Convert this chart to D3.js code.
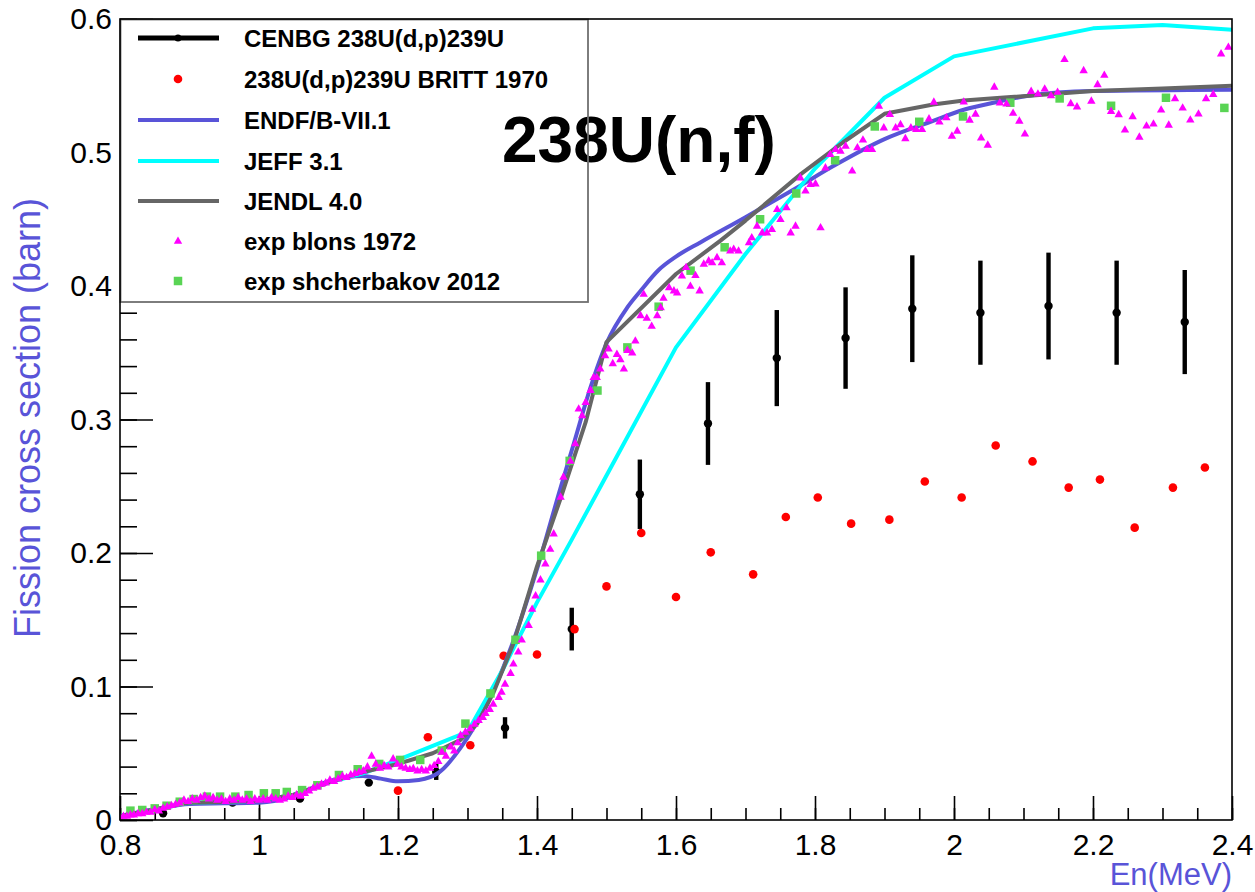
<!DOCTYPE html>
<html><head><meta charset="utf-8">
<script src="https://cdn.jsdelivr.net/npm/d3@7"></script>
<style>
html,body{margin:0;padding:0;background:#fff;}
svg{display:block;font-family:"Liberation Sans",Arial,Helvetica,sans-serif;}
</style></head><body>
<svg id="chart" width="1255" height="892"></svg>
<script>
// ---- axis ticks ----
const xMajor = [0.8, 1.0, 1.2, 1.4, 1.6, 1.8, 2.0, 2.2, 2.4];
const xLabels = ["0.8", "1", "1.2", "1.4", "1.6", "1.8", "2", "2.2", "2.4"];
const yMajor = [0, 0.1, 0.2, 0.3, 0.4, 0.5, 0.6];
const yLabels = ["0", "0.1", "0.2", "0.3", "0.4", "0.5", "0.6"];

// ---- CENBG 238U(d,p)239U surrogate data ----
const cenbgE   = [0.862, 0.962, 1.059, 1.158, 1.255, 1.354, 1.450, 1.548, 1.646, 1.745, 1.844, 1.940, 2.038, 2.136, 2.234, 2.332];
const cenbgXS  = [0.005, 0.013, 0.016, 0.028, 0.036, 0.069, 0.143, 0.244, 0.297, 0.346, 0.361, 0.383, 0.380, 0.385, 0.380, 0.373];
const cenbgErr = [0.001, 0.001, 0.001, 0.002, 0.006, 0.008, 0.016, 0.026, 0.031, 0.036, 0.038, 0.040, 0.039, 0.040, 0.039, 0.039];

// ---- Britt 1970 ----
const brittE  = [1.200, 1.243, 1.304, 1.352, 1.400, 1.454, 1.500, 1.550, 1.600, 1.650, 1.711, 1.758, 1.804, 1.852, 1.907, 1.958, 2.011, 2.060, 2.113, 2.165, 2.210, 2.260, 2.315, 2.361];
const brittXS = [0.022, 0.062, 0.056, 0.123, 0.124, 0.143, 0.175, 0.215, 0.167, 0.2005, 0.184, 0.227, 0.2416, 0.222, 0.225, 0.2536, 0.2416, 0.2805, 0.2686, 0.249, 0.255, 0.219, 0.249, 0.264];

// ---- evaluations ----
const endfE  = [0.80, 0.85, 0.90, 0.95, 1.00, 1.05, 1.10, 1.15, 1.175, 1.20, 1.23, 1.26, 1.29, 1.31, 1.34, 1.37, 1.40, 1.434, 1.453, 1.477, 1.50, 1.53, 1.55, 1.575, 1.60, 1.635, 1.70, 1.775, 1.827, 1.90, 1.97, 2.014, 2.067, 2.105, 2.20, 2.40];
const endfXS = [0.003, 0.008, 0.012, 0.0125, 0.013, 0.018, 0.029, 0.033, 0.031, 0.029, 0.030, 0.036, 0.054, 0.070, 0.100, 0.140, 0.188, 0.249, 0.282, 0.324, 0.357, 0.384, 0.397, 0.412, 0.422, 0.4326, 0.4515, 0.474, 0.490, 0.510, 0.5237, 0.532, 0.5384, 0.5424, 0.546, 0.547];

const jeffE  = [0.80, 0.85, 0.90, 0.95, 1.00, 1.05, 1.10, 1.15, 1.20, 1.30, 1.35, 1.40, 1.45, 1.50, 1.60, 1.70, 1.80, 1.90, 2.00, 2.20, 2.30, 2.40];
const jeffXS = [0.003, 0.008, 0.013, 0.0135, 0.0145, 0.019, 0.028, 0.035, 0.045, 0.066, 0.112, 0.163, 0.210, 0.258, 0.354, 0.424, 0.488, 0.541, 0.572, 0.593, 0.5955, 0.592];

const jendlE  = [0.80, 0.85, 0.90, 0.95, 1.00, 1.05, 1.10, 1.15, 1.20, 1.25, 1.29, 1.314, 1.337, 1.366, 1.40, 1.434, 1.47, 1.50, 1.60, 1.664, 1.70, 1.78, 1.84, 1.90, 1.97, 2.014, 2.067, 2.20, 2.30, 2.40];
const jendlXS = [0.003, 0.008, 0.013, 0.0135, 0.0145, 0.019, 0.028, 0.036, 0.042, 0.050, 0.060, 0.072, 0.095, 0.132, 0.190, 0.241, 0.298, 0.358, 0.409, 0.434, 0.449, 0.484, 0.5075, 0.529, 0.536, 0.539, 0.541, 0.546, 0.548, 0.550];

// ---- Blons 1972 ----
const blonsE = [0.800, 0.805, 0.810, 0.815, 0.820, 0.826, 0.832, 0.838, 0.844, 0.850, 0.856, 0.862, 0.868, 0.874, 0.880, 0.886, 0.892, 0.898, 0.904, 0.910,
  0.916, 0.922, 0.928, 0.934, 0.940, 0.946, 0.952, 0.958, 0.964, 0.970, 0.976, 0.982, 0.988, 0.994, 1.000, 1.006, 1.012, 1.018, 1.024, 1.030,
  1.036, 1.042, 1.048, 1.054, 1.060, 1.066, 1.072, 1.078, 1.084, 1.090, 1.096, 1.102, 1.108, 1.114, 1.120, 1.126, 1.132, 1.138, 1.144, 1.150,
  1.156, 1.162, 1.168, 1.174, 1.180, 1.186, 1.193, 1.199, 1.205, 1.211, 1.217, 1.222, 1.228, 1.234, 1.240, 1.246, 1.252, 1.258, 1.263, 1.269,
  1.276, 1.281, 1.286, 1.290, 1.297, 1.304, 1.310, 1.316, 1.322, 1.326, 1.332, 1.337, 1.345, 1.349, 1.354, 1.362, 1.366, 1.373, 1.378, 1.388,
  1.393, 1.398, 1.405, 1.412, 1.419, 1.424, 1.434, 1.438, 1.448, 1.455, 1.460, 1.465, 1.470, 1.477, 1.4815, 1.486, 1.491, 1.498, 1.503, 1.509,
  1.515, 1.520, 1.525, 1.530, 1.537, 1.5415, 1.549, 1.5535, 1.558, 1.565, 1.573, 1.578, 1.582, 1.590, 1.597, 1.6016, 1.6085, 1.6145, 1.6207, 1.628,
  1.634, 1.640, 1.647, 1.652, 1.659, 1.666, 1.678, 1.683, 1.690, 1.705, 1.709, 1.7166, 1.724, 1.731, 1.738, 1.7455, 1.7503, 1.759, 1.765, 1.772,
  1.779, 1.7863, 1.7935, 1.8007, 1.808, 1.815, 1.822, 1.8295, 1.8367, 1.844, 1.8535, 1.861, 1.869, 1.875, 1.882, 1.892, 1.899, 1.9077, 1.916, 1.923,
  1.930, 1.938, 1.9457, 1.954, 1.964, 1.971, 1.979, 1.989, 1.997, 2.0046, 2.014, 2.0225, 2.031, 2.039, 2.0486, 2.058, 2.066, 2.0756, 2.085, 2.094,
  2.102, 2.111, 2.1208, 2.1305, 2.1396, 2.149, 2.159, 2.168, 2.177, 2.1865, 2.1976, 2.2066, 2.2163, 2.226, 2.237, 2.246, 2.257, 2.2667, 2.277, 2.287,
  2.298, 2.309, 2.318, 2.329, 2.340, 2.3518, 2.3627, 2.373, 2.3843, 2.3948];
const blonsXS = [0.002, 0.003, 0.003, 0.004, 0.004, 0.005, 0.005, 0.006, 0.006, 0.008, 0.007, 0.009, 0.010, 0.011, 0.012, 0.013, 0.015, 0.014, 0.016, 0.015,
  0.017, 0.018, 0.016, 0.017, 0.015, 0.016, 0.014, 0.016, 0.015, 0.017, 0.015, 0.016, 0.014, 0.016, 0.015, 0.016, 0.015, 0.017, 0.016, 0.015,
  0.016, 0.018, 0.017, 0.019, 0.018, 0.020, 0.022, 0.024, 0.025, 0.027, 0.028, 0.030, 0.029, 0.031, 0.033, 0.032, 0.034, 0.035, 0.036, 0.037,
  0.040, 0.048, 0.042, 0.039, 0.041, 0.040, 0.046, 0.042, 0.040, 0.039, 0.038, 0.0387, 0.037, 0.038, 0.037, 0.039, 0.041, 0.044, 0.051, 0.048,
  0.055, 0.052, 0.058, 0.0636, 0.066, 0.0686, 0.072, 0.0748, 0.077, 0.080, 0.083, 0.087, 0.092, 0.096, 0.102, 0.110, 0.117, 0.126, 0.135, 0.146,
  0.158, 0.168, 0.180, 0.192, 0.203, 0.2145, 0.242, 0.257, 0.269, 0.282, 0.308, 0.303, 0.313, 0.322, 0.3316, 0.3316, 0.338, 0.348, 0.353, 0.342,
  0.349, 0.345, 0.338, 0.352, 0.350, 0.359, 0.378, 0.394, 0.376, 0.370, 0.378, 0.384, 0.391, 0.399, 0.3965, 0.395, 0.4077, 0.414, 0.400, 0.408,
  0.3965, 0.4165, 0.419, 0.4176, 0.4214, 0.4176, 0.4264, 0.4277, 0.4264, 0.4326, 0.4363, 0.445, 0.440, 0.440, 0.4425, 0.4575, 0.450, 0.4588, 0.440, 0.445,
  0.4812, 0.4713, 0.4763, 0.4767, 0.4438, 0.4887, 0.4987, 0.5024, 0.5012, 0.505, 0.4863, 0.5037, 0.5095, 0.5024, 0.5024, 0.5349, 0.5186, 0.5286, 0.5186, 0.521,
  0.5106, 0.5186, 0.5174, 0.5174, 0.5253, 0.5379, 0.523, 0.5262, 0.5124, 0.5162, 0.538, 0.5244, 0.5289, 0.511, 0.5057, 0.5491, 0.5373, 0.5365, 0.5296, 0.5237,
  0.514, 0.546, 0.544, 0.5477, 0.5428, 0.5453, 0.5698, 0.5368, 0.5343, 0.5615, 0.5387, 0.551, 0.558, 0.531, 0.5285, 0.517, 0.527, 0.5117, 0.520, 0.5215,
  0.532, 0.5207, 0.5405, 0.5335, 0.5245, 0.529, 0.5405, 0.5437, 0.574, 0.579];

// ---- Shcherbakov 2012 ----
const shchE  = [0.815, 0.832, 0.850, 0.867, 0.886, 0.906, 0.925, 0.944, 0.966, 0.985, 1.007, 1.024, 1.040, 1.062, 1.084, 1.115, 1.142, 1.173, 1.203, 1.232, 1.263, 1.297, 1.333, 1.369, 1.406, 1.447, 1.487, 1.530, 1.575, 1.621, 1.670, 1.721, 1.773, 1.829, 1.886, 1.950, 2.013, 2.081, 2.152, 2.226, 2.305, 2.389];
const shchXS = [0.007, 0.0075, 0.0087, 0.0107, 0.0137, 0.0157, 0.0175, 0.0175, 0.0175, 0.0187, 0.020, 0.020, 0.021, 0.0224, 0.026, 0.0337, 0.038, 0.042, 0.045, 0.045, 0.052, 0.0722, 0.0948, 0.135, 0.198, 0.269, 0.3217, 0.354, 0.3845, 0.4115, 0.429, 0.450, 0.4693, 0.4942, 0.5195, 0.523, 0.527, 0.5373, 0.5405, 0.535, 0.541, 0.5334];

// ---- colours ----
const cBlue = "#5954d8", cCyan = "#00ffff", cGray = "#666666", cMag = "#ff00ff", cGreen = "#59d454", cRed = "#ff0000";

const svg = d3.select("#chart");
const x = d3.scaleLinear().domain([0.8, 2.4]).range([120, 1232]);
const y = d3.scaleLinear().domain([0, 0.6]).range([820, 19]);
const zip = (a, b) => a.map((v, i) => [v, b[i]]);

svg.append("rect").attr("width", 1255).attr("height", 892).attr("fill", "#fff");
svg.append("defs").append("clipPath").attr("id", "plotclip")
  .append("rect").attr("x", 120).attr("y", 19).attr("width", 1112).attr("height", 801);

// ---- axes ----
const xMinor = d3.range(0, 33).map(i => 0.8 + i * 0.05);
const yMinor = d3.range(0, 31).map(i => i * 0.02);

function styleAxis(g, fs) {
  g.select(".domain").remove();
  g.selectAll("line").attr("stroke", "#000").attr("stroke-width", 1.6);
  g.selectAll("text").attr("font-size", fs).attr("fill", "#000").attr("font-family", "Liberation Sans, Arial, sans-serif");
}
svg.append("g").attr("transform", "translate(0,820)")
  .call(d3.axisBottom(x).tickValues(xMinor).tickSize(-12).tickFormat(""))
  .call(g => styleAxis(g, 30));
svg.append("g").attr("transform", "translate(0,820)")
  .call(d3.axisBottom(x).tickValues(xMajor).tickSize(-24).tickPadding(14).tickFormat((d, i) => xLabels[i]))
  .call(g => styleAxis(g, 30));
svg.append("g").attr("transform", "translate(120,0)")
  .call(d3.axisLeft(y).tickValues(yMinor).tickSize(-17).tickFormat(""))
  .call(g => styleAxis(g, 30));
svg.append("g").attr("transform", "translate(120,0)")
  .call(d3.axisLeft(y).tickValues(yMajor).tickSize(-33).tickPadding(8).tickFormat((d, i) => yLabels[i]))
  .call(g => styleAxis(g, 30));

// axis titles
svg.append("text").attr("transform", "translate(40,418) rotate(-90)")
  .attr("text-anchor", "middle").attr("font-size", 36).attr("fill", cBlue)
  .text("Fission cross section (barn)");
svg.append("text").attr("x", 1232).attr("y", 885).attr("text-anchor", "end")
  .attr("font-size", 31).attr("fill", cBlue).text("En(MeV)");

// ---- data ----
const plot = svg.append("g").attr("clip-path", "url(#plotclip)");

// CENBG error bars and points
const cenbg = cenbgE.map((e, i) => ({ e, v: cenbgXS[i], err: cenbgErr[i] }));
plot.append("g").selectAll("line").data(cenbg).join("line")
  .attr("x1", d => x(d.e)).attr("x2", d => x(d.e))
  .attr("y1", d => y(d.v - d.err)).attr("y2", d => y(d.v + d.err))
  .attr("stroke", "#000").attr("stroke-width", 4.4);
plot.append("g").selectAll("circle").data(cenbg).join("circle")
  .attr("cx", d => x(d.e)).attr("cy", d => y(d.v)).attr("r", 4.2).attr("fill", "#000");

// Britt points
plot.append("g").selectAll("circle").data(zip(brittE, brittXS)).join("circle")
  .attr("cx", d => x(d[0])).attr("cy", d => y(d[1])).attr("r", 4.3).attr("fill", cRed);

// evaluated curves
const line = d3.line().x(d => x(d[0])).y(d => y(d[1]));
const smooth = d3.line().x(d => x(d[0])).y(d => y(d[1])).curve(d3.curveMonotoneX);
plot.append("path").datum(zip(endfE, endfXS)).attr("d", smooth)
  .attr("fill", "none").attr("stroke", cBlue).attr("stroke-width", 4).attr("stroke-linejoin", "round");
plot.append("path").datum(zip(jeffE, jeffXS)).attr("d", line)
  .attr("fill", "none").attr("stroke", cCyan).attr("stroke-width", 4).attr("stroke-linejoin", "round");
plot.append("path").datum(zip(jendlE, jendlXS)).attr("d", line)
  .attr("fill", "none").attr("stroke", cGray).attr("stroke-width", 4).attr("stroke-linejoin", "round");

// markers
const sq = 8.5;
plot.append("g").selectAll("rect").data(zip(shchE, shchXS)).join("rect")
  .attr("x", d => x(d[0]) - sq / 2).attr("y", d => y(d[1]) - sq / 2)
  .attr("width", sq).attr("height", sq).attr("fill", cGreen);
const tri = "M0,-4.6L4.2,2.8L-4.2,2.8Z";
plot.append("g").selectAll("path").data(zip(blonsE, blonsXS)).join("path")
  .attr("transform", d => `translate(${x(d[0])},${y(d[1])})`)
  .attr("d", tri).attr("fill", cMag);

// ---- legend ----
const leg = svg.append("g");
leg.append("rect").attr("x", 120).attr("y", 19).attr("width", 468).attr("height", 283).attr("fill", "#fff");

// title
svg.append("text").attr("x", 502).attr("y", 162).attr("font-size", 64).attr("font-weight", "bold")
  .attr("fill", "#000").text("238U(n,f)");

const legBorder = svg.append("g");
legBorder.append("rect").attr("x", 120.5).attr("y", 19.5).attr("width", 467.5).attr("height", 282.5)
  .attr("fill", "none").attr("stroke", "#6f6f6f").attr("stroke-width", 1.8);

const entries = [
  { label: "CENBG 238U(d,p)239U", kind: "cenbg" },
  { label: "238U(d,p)239U BRITT 1970", kind: "britt" },
  { label: "ENDF/B-VII.1", kind: "line", color: cBlue },
  { label: "JEFF 3.1", kind: "line", color: cCyan },
  { label: "JENDL 4.0", kind: "line", color: cGray },
  { label: "exp blons 1972", kind: "tri" },
  { label: "exp shcherbakov 2012", kind: "sq" }
];
const rowY = [38, 79, 120, 161, 201, 241, 281];
entries.forEach((en, i) => {
  const g = legBorder.append("g").attr("transform", `translate(0,${rowY[i]})`);
  if (en.kind === "cenbg") {
    g.append("line").attr("x1", 138).attr("x2", 219).attr("stroke", "#000").attr("stroke-width", 5);
    g.append("circle").attr("cx", 178).attr("r", 3.5).attr("fill", "#000");
  } else if (en.kind === "britt") {
    g.append("circle").attr("cx", 178).attr("r", 4.3).attr("fill", cRed);
  } else if (en.kind === "line") {
    g.append("line").attr("x1", 138).attr("x2", 219).attr("stroke", en.color).attr("stroke-width", 4);
  } else if (en.kind === "tri") {
    g.append("path").attr("transform", "translate(178,0)").attr("d", tri).attr("fill", cMag);
  } else {
    g.append("rect").attr("x", 178 - sq / 2).attr("y", -sq / 2).attr("width", sq).attr("height", sq).attr("fill", cGreen);
  }
  g.append("text").attr("x", 244).attr("y", 0).attr("dy", "0.36em")
    .attr("font-size", 24).attr("font-weight", "bold").attr("fill", "#000").text(en.label);
});

// ---- frame ----
svg.append("rect").attr("x", 120).attr("y", 19).attr("width", 1112).attr("height", 801)
  .attr("fill", "none").attr("stroke", "#000").attr("stroke-width", 1.6);
</script></body></html>
